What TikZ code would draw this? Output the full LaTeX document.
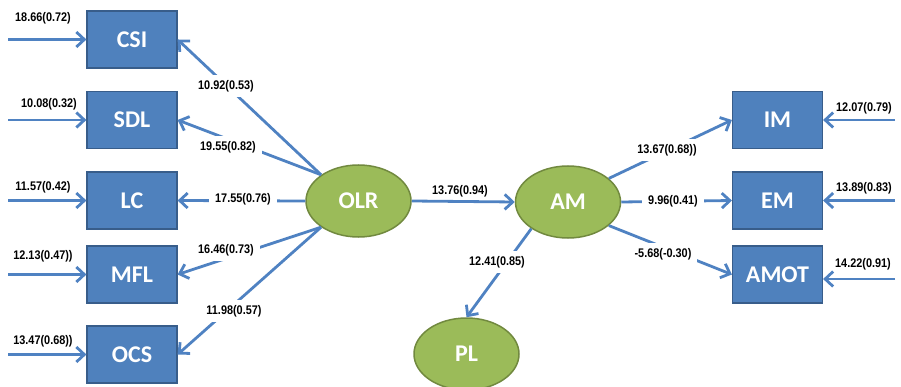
\documentclass[tikz,border=0pt]{standalone}
\usepackage{fontspec}
\usetikzlibrary{shapes.geometric,arrows.meta}
\newfontfamily\boxfont{Carlito}
\newfontfamily\numfont[FakeStretch=0.87]{Liberation Sans}
\definecolor{boxblue}{HTML}{4F81BD}
\definecolor{boxedge}{HTML}{385D8A}
\definecolor{ellgreen}{HTML}{9BBB59}
\definecolor{elledge}{HTML}{71893F}
\definecolor{linecol}{HTML}{4F82C2}
\begin{document}
\begin{tikzpicture}[x=1pt,y=-1pt,
  box/.style={draw=boxedge,line width=1.2pt,fill=boxblue,minimum width=90pt,minimum height=57pt,inner sep=0pt,text=white,font=\boxfont\bfseries\fontsize{24}{24}\selectfont},
  latent/.style={ellipse,draw=elledge,line width=1.5pt,fill=ellgreen,minimum width=105pt,minimum height=72pt,inner sep=0pt,text=white,font=\boxfont\bfseries\fontsize{24}{24}\selectfont},
  conn/.style={draw=linecol,line width=2.8pt,-{Straight Barb[length=8pt,width=15pt]}},
  errlab/.style={inner sep=1pt,text=black,font=\numfont\bfseries\fontsize{12.5}{13}\selectfont},
  lab/.style={errlab,fill=white,inner xsep=6pt,inner ysep=5pt}]
\useasboundingbox (0,0) rectangle (901,387);
\clip (0,0) rectangle (901,387);
% observed variables
\node[box] (CSI) at (132,39.5) {CSI};
\node[box] (SDL) at (132,120) {SDL};
\node[box] (LC) at (132,200.5) {LC};
\node[box] (MFL) at (132,274.5) {MFL};
\node[box] (OCS) at (132,354.5) {OCS};
\node[box] (IM) at (777.5,120) {IM};
\node[box] (EM) at (777.5,200.5) {EM};
\node[box] (AMOT) at (777.5,274.5) {AMOT};
% latent variables
\node[latent] (OLR) at (358.5,201) {OLR};
\node[latent] (AM) at (568,202) {AM};
\node[latent] (PL) at (466.5,354) {PL};
% error inputs
\coordinate (inCSI) at (8,39.5);
\coordinate (inSDL) at (8,120);
\coordinate (inLC) at (8,200.5);
\coordinate (inMFL) at (8,274.5);
\coordinate (inOCS) at (8,354.5);
\coordinate (inIM) at (895,120);
\coordinate (inEM) at (895,200.5);
\coordinate (inAMOT) at (895,279);
\draw[conn] (inCSI) -- (CSI.west);
\draw[conn] (inSDL) -- (SDL.west);
\draw[conn] (inLC) -- (LC.west);
\draw[conn] (inMFL) -- (MFL.west);
\draw[conn] (inOCS) -- (OCS.west);
\draw[conn] (inIM) -- (IM.east);
\draw[conn] (inEM) -- (EM.east);
\draw[conn] (inAMOT) -- (inAMOT -| AMOT.east);
% structural paths
\draw[conn] (OLR.145) -- (CSI.east);
\draw[conn] (OLR.145) -- (SDL.east);
\draw[conn] (OLR.west) -- (LC.east);
\draw[conn] (OLR.215) -- (MFL.east);
\draw[conn] (OLR.215) -- (OCS.east);
\draw[conn] (OLR.east) -- (AM.west);
\draw[conn] (AM.30) -- (IM.west);
\draw[conn] (AM.east) -- (EM.west);
\draw[conn] (AM.-30) -- (AMOT.west);
\draw[conn] (AM.216) -- (PL.north);
% labels
\node[errlab] (lCSIe) at (43,18) {18.66(0.72)};
\node[errlab] (lSDLe) at (49,104) {10.08(0.32)};
\node[errlab] (lLCe) at (43,187) {11.57(0.42)};
\node[errlab] (lMFLe) at (43,256) {12.13(0.47))};
\node[errlab] (lOCSe) at (43,341) {13.47(0.68))};
\node[errlab] (lIMe) at (864,108) {12.07(0.79)};
\node[errlab] (lEMe) at (864,188) {13.89(0.83)};
\node[errlab] (lAMOTe) at (863,264) {14.22(0.91)};
\node[lab] (lCSI) at (226,86) {10.92(0.53)};
\node[lab] (lSDL) at (228,147) {19.55(0.82)};
\node[lab] (lLC) at (243,199) {17.55(0.76)};
\node[lab] (lMFL) at (226,250) {16.46(0.73)};
\node[lab] (lOCS) at (234,311) {11.98(0.57)};
\node[errlab] (lAM) at (460,191) {13.76(0.94)};
\node[lab] (lPL) at (497,262) {12.41(0.85)};
\node[lab] (lIM) at (667,150) {13.67(0.68))};
\node[lab] (lEM) at (673,201) {9.96(0.41)};
\node[lab] (lAMOT) at (663,254) {-5.68(-0.30)};
\end{tikzpicture}
\end{document}
